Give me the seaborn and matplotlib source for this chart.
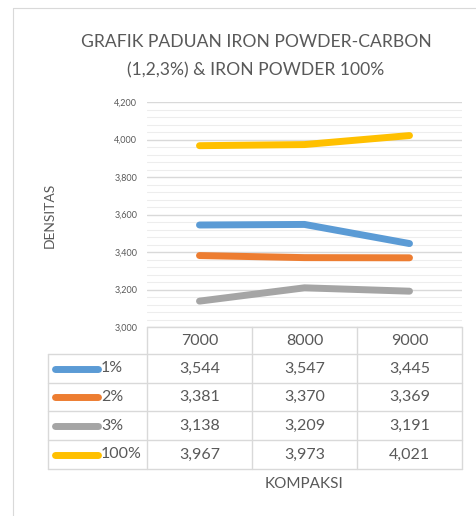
import pandas as pd
import matplotlib.pyplot as plt
import seaborn as sns
from matplotlib.lines import Line2D
from matplotlib.ticker import MultipleLocator, FuncFormatter

kompaksi = ['7000', '8000', '9000']
series = ['1%', '2%', '3%', '100%']
d1 = [3544, 3547, 3445]
d2 = [3381, 3370, 3369]
d3 = [3138, 3209, 3191]
d100 = [3967, 3973, 4021]
colors = ['#5B9BD5', '#ED7D31', '#A5A5A5', '#FFC000']

rows = []
for name, vals in zip(series, [d1, d2, d3, d100]):
    for k, v in zip(kompaksi, vals):
        rows.append({'kompaksi': k, 'seri': name, 'densitas': v})
df = pd.DataFrame(rows)

sns.set_theme(style='white')
plt.rcParams['font.family'] = ['Lato', 'DejaVu Sans']
txt = '#595959'

W, H = 477, 516
fig = plt.figure(figsize=(W / 100, H / 100), dpi=100)


def fx(px):
    return px / W


def fy(py):
    return 1 - py / H


# chart border
fig.add_artist(Line2D([fx(13), fx(13)], [fy(8), fy(516)], color='#D9D9D9', lw=0.8))
fig.add_artist(Line2D([fx(13), fx(477)], [fy(8), fy(8)], color='#D9D9D9', lw=0.8))

ax = fig.add_axes([fx(147), fy(327), fx(462) - fx(147), (327 - 102) / H])
sns.lineplot(data=df, x='kompaksi', y='densitas', hue='seri', palette=colors,
             lw=5, solid_capstyle='round', legend=False, ax=ax, zorder=3)
ax.set_xlim(-0.5, 2.5)
ax.set_ylim(3000, 4200)
ax.yaxis.set_major_locator(MultipleLocator(200))
ax.yaxis.set_minor_locator(MultipleLocator(40))
ax.yaxis.set_major_formatter(FuncFormatter(lambda v, p: f'{int(v):,}'))
ax.grid(which='major', axis='y', color='#D9D9D9', lw=1)
ax.grid(which='minor', axis='y', color='#EDEDED', lw=0.8)
ax.set_axisbelow(True)
ax.tick_params(axis='y', which='both', length=0, labelsize=6.5, labelcolor=txt, pad=7)
ax.set_xticks([])
ax.set_xlabel('')
ax.set_ylabel('')
for s in ax.spines.values():
    s.set_visible(False)

fig.text(fx(256), fy(42), 'GRAFIK PADUAN IRON POWDER-CARBON', ha='center', va='center',
         fontsize=12.6, color=txt)
fig.text(fx(256), fy(70), '(1,2,3%) & IRON POWDER 100%', ha='center', va='center',
         fontsize=12.6, color=txt)
fig.text(fx(50), fy(215), 'DENSITAS', rotation=90, ha='center', va='center',
         fontsize=10, color=txt)
fig.text(fx(304), fy(484), 'KOMPAKSI', ha='center', va='center', fontsize=11, color=txt)

# data table
grid_c = '#D9D9D9'
col_x = [48, 147, 252, 357, 462]
row_y = [327, 354, 383, 411, 440, 469]
for x in col_x:
    top = 327 if x > 48 else 354
    fig.add_artist(Line2D([fx(x), fx(x)], [fy(top), fy(469)], color=grid_c, lw=1))
for y in row_y:
    left = 147 if y == 327 else 48
    fig.add_artist(Line2D([fx(left), fx(462)], [fy(y), fy(y)], color=grid_c, lw=1))

for j, k in enumerate(kompaksi):
    cx = (col_x[j + 1] + col_x[j + 2]) / 2
    fig.text(fx(cx), fy(341), k, ha='center', va='center', fontsize=11.5, color=txt)

for i, (name, vals) in enumerate(zip(series, [d1, d2, d3, d100])):
    cy = (row_y[i + 1] + row_y[i + 2]) / 2
    fig.add_artist(Line2D([fx(55), fx(98)], [fy(cy), fy(cy)], color=colors[i], lw=5,
                          solid_capstyle='round'))
    fig.text(fx(101), fy(cy), name, ha='left', va='center', fontsize=11.5, color=txt)
    for j, v in enumerate(vals):
        cx = (col_x[j + 1] + col_x[j + 2]) / 2
        fig.text(fx(cx), fy(cy), f'{v:,}', ha='center', va='center', fontsize=11.5, color=txt)

fig.savefig('out.png', dpi=100, facecolor='white')
